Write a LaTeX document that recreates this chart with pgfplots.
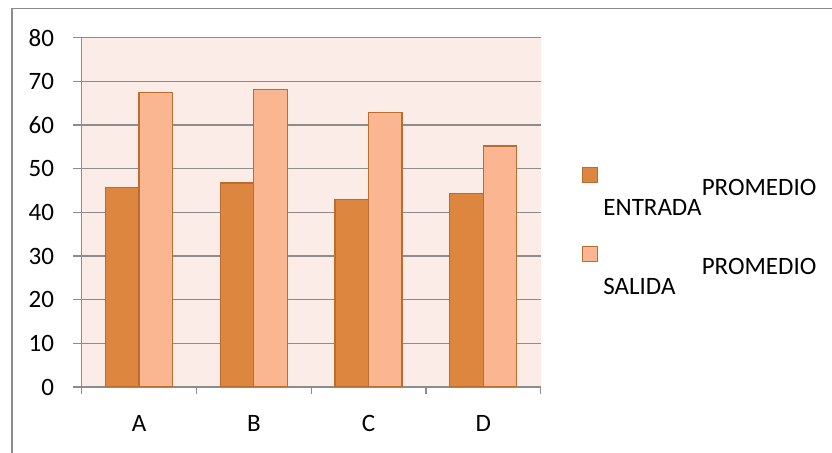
\documentclass[border=0pt]{standalone}
\usepackage{pgfplots}
\pgfplotsset{compat=1.18}
\usepackage{fontspec}
\setmainfont{Carlito}
\definecolor{entr}{HTML}{DD863F}
\definecolor{sali}{HTML}{F9B691}
\definecolor{edgec}{HTML}{BC6C2E}
\definecolor{bgc}{HTML}{FBECE7}
\definecolor{gridc}{HTML}{8C8C8C}
\begin{document}
\begin{tikzpicture}[font=\fontsize{12.5}{10}\selectfont]
\useasboundingbox (0,0) rectangle (416pt,226.5pt);
\begin{axis}[
  at={(40.85pt,33pt)}, anchor=south west,
  scale only axis, width=229.5pt, height=174.65pt,
  xmin=-0.5, xmax=3.5, ymin=0, ymax=80,
  ytick={0,10,...,80},
  xtick={0,1,2,3}, xticklabels={A,B,C,D},
  minor xtick={-0.5,0.5,1.5,2.5,3.5},
  ybar=0pt, bar width=16.75pt,
  axis background/.style={fill=bgc},
  ymajorgrids, grid style={gridc, line width=0.65pt},
  axis x line=bottom, axis y line=left,
  axis line style={gridc, line width=0.65pt, -},
  tick align=outside, major tick length=4.35pt, minor tick length=3.5pt,
  tick style={gridc, line width=0.65pt},
  major x tick style={draw=none},
  /pgf/number format/assume math mode=true,
  ticklabel style={font=\fontsize{12.5}{15}\selectfont, text=black},
  yticklabel style={xshift=-6pt},
  xticklabel style={yshift=-6.5pt},
  legend image code/.code={\draw[#1, draw=edgec, line width=0.5pt] (0pt,3.25pt) rectangle (7.5pt,10.75pt);},
  legend style={at={(1.09,0.63)}, anchor=north west, draw=none, fill=none,
    inner sep=0pt, row sep=23.5pt, column sep=2.5pt, nodes={inner sep=0pt}},
  legend cell align=left,
]
\addplot[fill=entr, draw=edgec, line width=0.6pt] coordinates {(0,45.6) (1,46.7) (2,43.0) (3,44.3)};
\addlegendentry{\parbox[t]{106.5pt}{\hfill PROMEDIO\newline ENTRADA}}
\addplot[fill=sali, draw=edgec, line width=0.6pt] coordinates {(0,67.4) (1,68.2) (2,62.8) (3,55.2)};
\addlegendentry{\parbox[t]{106.5pt}{\hfill PROMEDIO\newline SALIDA}}
\end{axis}
\draw[gridc, line width=0.65pt] (6pt,-5pt) -- (6pt,222.15pt) -- (420pt,222.15pt);
\end{tikzpicture}
\end{document}
